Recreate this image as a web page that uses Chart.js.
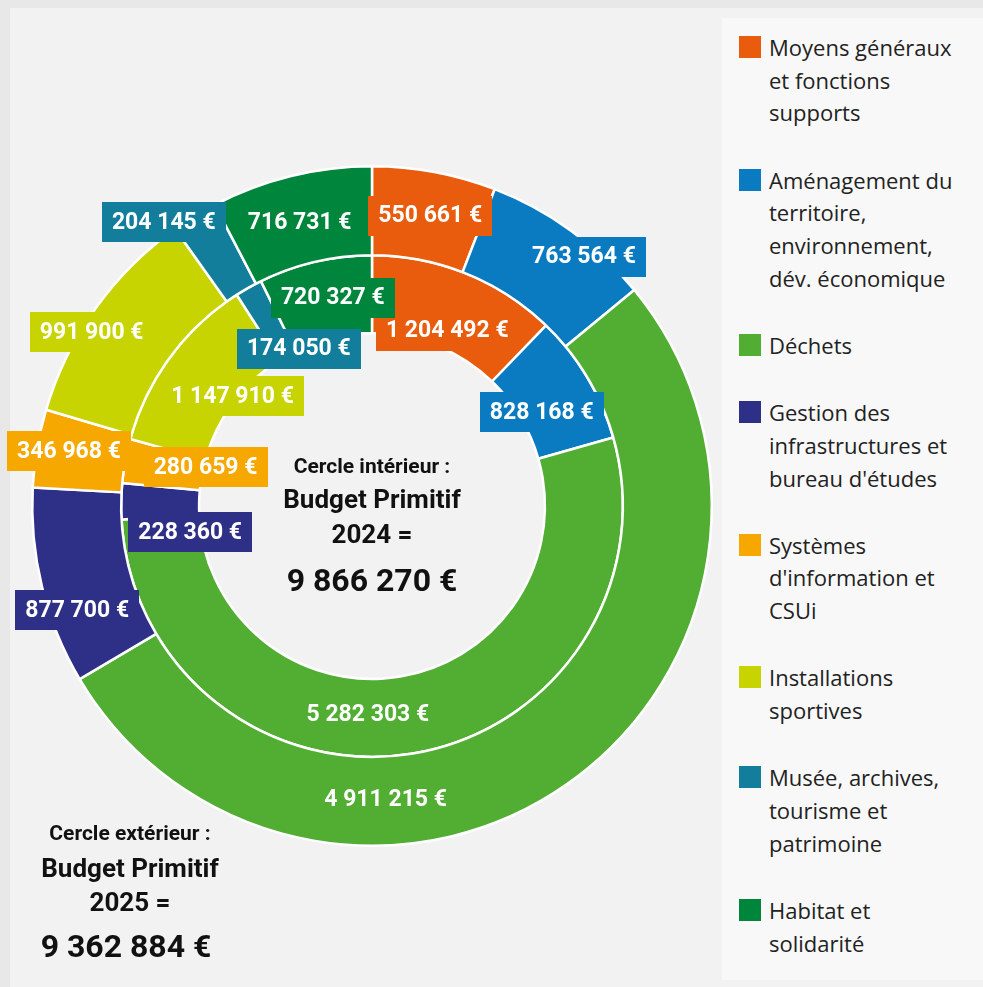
<!DOCTYPE html>
<html lang="fr">
<head>
<meta charset="utf-8">
<script src="https://cdn.jsdelivr.net/npm/chart.js@4.4.1/dist/chart.umd.min.js"></script>
<style>
  html, body { margin:0; padding:0; }
  body { width:983px; height:987px; background:#e8e8e8; position:relative; overflow:hidden; font-family:Roboto, sans-serif; }
  #panel { position:absolute; left:10px; top:8px; width:973px; height:979px; background:#f2f2f2; }
  #legend { position:absolute; left:722px; top:18px; width:261px; height:962px; background:#f8f8f8; box-sizing:border-box; padding-top:13px; }
  .item { display:flex; align-items:flex-start; margin-bottom:34.5px; }
  .sq { width:22px; height:22px; margin-left:17px; margin-top:5px; flex:none; }
  .txt { margin-left:8px; font-family:"Open Sans", sans-serif; font-size:22px; line-height:32.7px; color:#222; width:230px; white-space:nowrap; }
  #c { position:absolute; left:0; top:0; }
  .ctr { position:absolute; text-align:center; font-weight:bold; color:#111; white-space:nowrap; transform:translate(-50%,-50%); }
</style>
</head>
<body>
<div id="panel"></div>
<canvas id="c" width="983" height="987"></canvas>
<div id="legend"></div>

<div class="ctr" style="left:372px; top:466px; font-size:21px;">Cercle intérieur :</div>
<div class="ctr" style="left:372px; top:499px; font-size:26px;">Budget Primitif</div>
<div class="ctr" style="left:372px; top:534px; font-size:26px;">2024 =</div>
<div class="ctr" style="left:372px; top:580px; font-size:32px;">9 866 270 €</div>

<div class="ctr" style="left:130px; top:833px; font-size:21px;">Cercle extérieur :</div>
<div class="ctr" style="left:130px; top:868px; font-size:26px;">Budget Primitif</div>
<div class="ctr" style="left:130px; top:902px; font-size:26px;">2025 =</div>
<div class="ctr" style="left:126px; top:946px; font-size:32px;">9 362 884 €</div>

<script>
// ---- data ----
const categories = [
  "Moyens généraux et fonctions supports",
  "Aménagement du territoire, environnement, dév. économique",
  "Déchets",
  "Gestion des infrastructures et bureau d'études",
  "Systèmes d'information et CSUi",
  "Installations sportives",
  "Musée, archives, tourisme et patrimoine",
  "Habitat et solidarité"
];
const legendLines = [
  ["Moyens généraux", "et fonctions", "supports"],
  ["Aménagement du", "territoire,", "environnement,", "dév. économique"],
  ["Déchets"],
  ["Gestion des", "infrastructures et", "bureau d'études"],
  ["Systèmes", "d'information et", "CSUi"],
  ["Installations", "sportives"],
  ["Musée, archives,", "tourisme et", "patrimoine"],
  ["Habitat et", "solidarité"]
];
const budget2025 = [550661, 763564, 4911215, 877700, 346968, 991900, 204145, 716731];
const budget2024 = [1204492, 828168, 5282303, 228360, 280659, 1147910, 174050, 720327];

// ---- styles ----
const colors = ["#e95c0d", "#0a7bc1", "#52ad33", "#2e2f86", "#f6a700", "#c7d401", "#137e9b", "#00853d"];
// label nudges (pixels) relative to the arc centroid
const outerNudge = [[4,0],[39,-10],[-156,52],[-8,34],[-12,-5],[-40,-2],[-54,-32],[-2,3]];
const innerNudge = [[-4,21],[-12,15],[-39,-1],[30,30],[42,-1],[31,16],[31,27],[9,-2]];

// legend
const lg = document.getElementById('legend');
legendLines.forEach((lines, i) => {
  const it = document.createElement('div'); it.className = 'item';
  const sq = document.createElement('div'); sq.className = 'sq'; sq.style.background = colors[i];
  const tx = document.createElement('div'); tx.className = 'txt'; tx.innerHTML = lines.join('<br>');
  it.appendChild(sq); it.appendChild(tx); lg.appendChild(it);
});

function fmt(v) { return String(v).replace(/\B(?=(\d{3})+(?!\d))/g, ' ') + ' €'; }

const boxLabels = {
  id: 'boxLabels',
  afterDatasetsDraw(chart) {
    const ctx = chart.ctx;
    ctx.save();
    ctx.font = 'bold 23px Roboto';
    ctx.textAlign = 'center';
    ctx.textBaseline = 'middle';
    chart.data.datasets.forEach((ds, di) => {
      const meta = chart.getDatasetMeta(di);
      const nudges = di === 0 ? outerNudge : innerNudge;
      meta.data.forEach((arc, i) => {
        const p = arc.getProps(['x','y','startAngle','endAngle','innerRadius','outerRadius'], true);
        const mid = (p.startAngle + p.endAngle) / 2;
        const r = (p.innerRadius + p.outerRadius) / 2;
        const cx = p.x + Math.cos(mid) * r + nudges[i][0];
        const cy = p.y + Math.sin(mid) * r + nudges[i][1];
        const text = fmt(ds.data[i]);
        const w = ctx.measureText(text).width + 20;
        const h = 40;
        ctx.fillStyle = ds.backgroundColor[i];
        ctx.fillRect(Math.round(cx - w/2), Math.round(cy - h/2), Math.round(w), h);
        ctx.fillStyle = '#ffffff';
        ctx.fillText(text, cx, cy + 1);
      });
    });
    ctx.restore();
  }
};

new Chart(document.getElementById('c'), {
  type: 'doughnut',
  data: {
    labels: categories,
    datasets: [
      { label: 'BP 2025', data: budget2025, backgroundColor: colors, borderColor: '#ffffff', borderWidth: 2.5, weight: 89 },
      { label: 'BP 2024', data: budget2024, backgroundColor: colors, borderColor: '#ffffff', borderWidth: 2.5, weight: 78 }
    ]
  },
  options: {
    responsive: false,
    animation: false,
    cutout: '50.9%',
    layout: { padding: { left: 31, top: 165, right: 270, bottom: 140 } },
    plugins: { legend: { display: false }, tooltip: { enabled: false } },
    elements: { arc: { borderAlign: 'center' } }
  },
  plugins: [boxLabels]
});
</script>
</body>
</html>
